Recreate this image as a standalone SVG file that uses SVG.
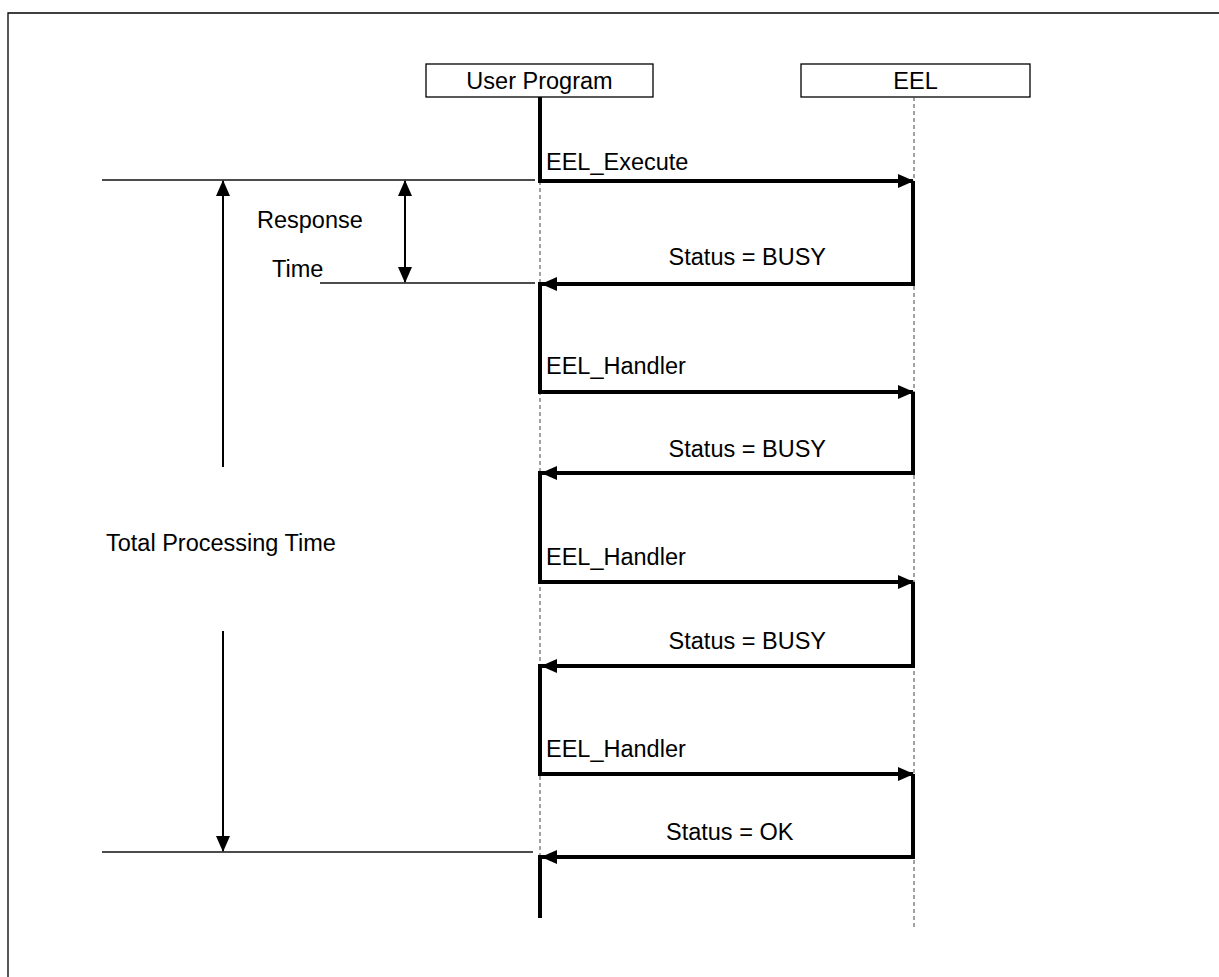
<svg xmlns="http://www.w3.org/2000/svg" width="1219" height="977" viewBox="0 0 1219 977">
<style>
text{font-family:"Liberation Sans",Arial,sans-serif;font-size:23.5px;fill:#000}
.box{fill:#fff;stroke:#000;stroke-width:1.3}
.life{stroke:#444;stroke-width:1;stroke-dasharray:4,3;fill:none}
.act{stroke:#000;stroke-width:4;fill:none}
.msg{stroke:#000;stroke-width:4;fill:none}
.thin{stroke:#111;stroke-width:1.3;fill:none}
.dim{stroke:#000;stroke-width:2;fill:none}
</style>
<defs>
<marker id="ah" markerUnits="userSpaceOnUse" markerWidth="16" markerHeight="14" refX="15" refY="7" orient="auto">
<path d="M0,0 L16,7 L0,14 Z" fill="#000"/>
</marker>
<marker id="dh" markerUnits="userSpaceOnUse" markerWidth="16" markerHeight="14" refX="15" refY="7" orient="auto-start-reverse">
<path d="M0,0 L16,7 L0,14 Z" fill="#000"/>
</marker>
</defs>
<rect width="1219" height="977" fill="#fff"/>
<path d="M8,990 V13 H1230" fill="none" stroke="#000" stroke-width="1.3"/>

<g id="user-program">
<rect class="box" x="426" y="64" width="227" height="33"/>
<text x="539.5" y="89" text-anchor="middle">User Program</text>
<line class="life" x1="540" y1="97" x2="540" y2="918"/>
</g>
<g id="eel">
<rect class="box" x="801" y="64" width="229" height="33"/>
<text x="915.5" y="89" text-anchor="middle">EEL</text>
<line class="life" x1="914" y1="97" x2="914" y2="930"/>
</g>

<g id="activations">
<line class="act" x1="540" y1="97" x2="540" y2="183"/>
<line class="act" x1="540" y1="282" x2="540" y2="394"/>
<line class="act" x1="540" y1="471" x2="540" y2="584"/>
<line class="act" x1="540" y1="664" x2="540" y2="776"/>
<line class="act" x1="540" y1="855" x2="540" y2="918"/>
<line class="act" x1="913" y1="181" x2="913" y2="286"/>
<line class="act" x1="913" y1="392" x2="913" y2="475"/>
<line class="act" x1="913" y1="582" x2="913" y2="668"/>
<line class="act" x1="913" y1="774" x2="913" y2="859"/>
</g>

<g id="connectors">
<line class="msg" x1="540" y1="181" x2="913" y2="181" marker-end="url(#ah)"/>
<line class="msg" x1="913" y1="284" x2="542" y2="284" marker-end="url(#ah)"/>
<line class="msg" x1="540" y1="392" x2="913" y2="392" marker-end="url(#ah)"/>
<line class="msg" x1="913" y1="473" x2="542" y2="473" marker-end="url(#ah)"/>
<line class="msg" x1="540" y1="582" x2="913" y2="582" marker-end="url(#ah)"/>
<line class="msg" x1="913" y1="666" x2="542" y2="666" marker-end="url(#ah)"/>
<line class="msg" x1="540" y1="774" x2="913" y2="774" marker-end="url(#ah)"/>
<line class="msg" x1="913" y1="857" x2="542" y2="857" marker-end="url(#ah)"/>
</g>

<g id="labels">
<text x="546" y="170">EEL_Execute</text>
<text x="826" y="265" text-anchor="end">Status = BUSY</text>
<text x="546" y="374">EEL_Handler</text>
<text x="826" y="457" text-anchor="end">Status = BUSY</text>
<text x="546" y="565">EEL_Handler</text>
<text x="826" y="649" text-anchor="end">Status = BUSY</text>
<text x="546" y="757">EEL_Handler</text>
<text x="666" y="840">Status = OK</text>
</g>

<g id="timing">
<line class="thin" x1="102" y1="180" x2="535" y2="180"/>
<line class="thin" x1="320" y1="283" x2="535" y2="283"/>
<line class="thin" x1="102" y1="852" x2="533" y2="852"/>
<line class="dim" x1="223" y1="467" x2="223" y2="181" marker-end="url(#ah)"/>
<line class="dim" x1="223" y1="631" x2="223" y2="851" marker-end="url(#ah)"/>
<line class="dim" x1="405" y1="181" x2="405" y2="282" marker-start="url(#dh)" marker-end="url(#dh)"/>
<text x="257" y="228">Response</text>
<text x="272" y="277">Time</text>
<text x="106" y="551">Total Processing Time</text>
</g>
</svg>
